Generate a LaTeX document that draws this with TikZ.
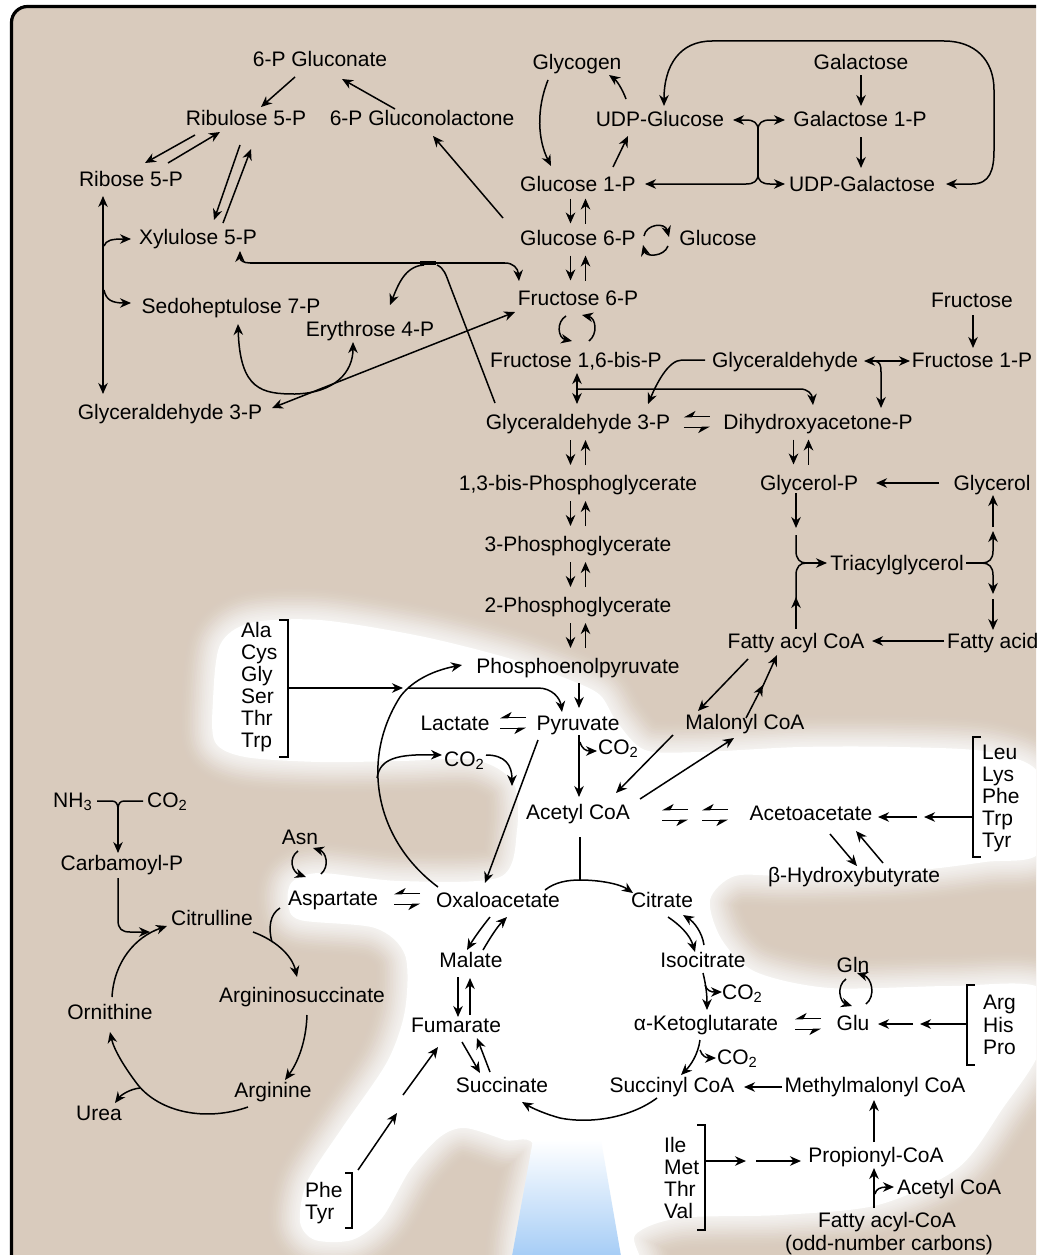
\documentclass[tikz,border=0pt]{standalone}
\usepackage{fontspec}
\setmainfont{Liberation Sans}
\usetikzlibrary{arrows.meta,calc}
\definecolor{tanbg}{RGB}{217,203,189}
\definecolor{skyblue}{RGB}{166,205,246}
\newcommand\mfs{\fontsize{21}{22}\selectfont}
\begin{document}
\begin{tikzpicture}[x=1pt,y=-1pt,
  lbl/.style={inner sep=0pt,text height=15pt,text depth=0pt,font=\mfs},
  lw/.style={lbl,anchor=west},
  hd/.tip={Stealth[length=11pt,width=9.5pt,inset=3.5pt]},
  hpr/.tip={Stealth[harpoon,swap,length=10pt,width=11pt,inset=3pt]},
  ln/.style={line width=1.5pt},
  ar/.style={line width=1.5pt,-hd},
  dar/.style={line width=1.5pt,hd-hd},
  hpa/.style={line width=1.7pt,-hpr},
  pics/ud/.style={code={
    \draw[ar] (-7.5,-12.5) -- (-7.5,12.5);
    \draw[ar] (7.5,12.5) -- (7.5,-12.5);}},
  pics/eq/.style={code={
    \draw[hpa] (13,-5.5) -- (-13,-5.5);
    \draw[hpa] (-13,5.5) -- (13,5.5);}}
]
\useasboundingbox (0,0) rectangle (1036,1255);

% ---------- background panel, light field, blue beam ----------
\def\blob{plot[smooth cycle,tension=0.5] coordinates {
 (213,700) (220,645) (250,623) (320,620) (420,636) (508,658) (570,680)
 (600,695) (617,722) (645,750) (700,752) (800,747) (900,747) (990,752)
 (1040,775) (1040,852) (985,862) (900,872) (790,876) (735,876) (710,900)
 (722,940) (756,972) (830,988) (950,986) (1040,988) (1040,1050)
 (1003,1108) (958,1168) (878,1205) (780,1215) (680,1218) (635,1235)
 (635,1270) (520,1270) (535,1150) (505,1140) (465,1128) (440,1137)
 (410,1170) (382,1218) (352,1240) (315,1240) (300,1222) (307,1182)
 (342,1128) (387,1062) (405,1010) (405,955) (375,928) (300,920)
 (288,903) (292,882) (320,873) (400,881) (500,877) (517,830) (513,782)
 (475,760) (400,761) (320,762) (245,757) (215,742)}}
\begin{scope}
\clip (0,0) rectangle (1036,1255);
\draw[line width=3.2pt,fill=tanbg,rounded corners=16pt] (11.5,6.5) rectangle (1080,1290);
\foreach \i in {1,...,20}{
  \pgfmathsetmacro\w{3.2*\i}
  \pgfmathsetmacro\o{0.015+0.0075*(20-\i)}
  \path[draw=white,line width=\w pt,line join=round,opacity=\o] \blob;}
\fill[white] \blob;
\shade[top color=white,bottom color=skyblue] (533,1140) -- (601,1140) -- (621,1256) -- (512,1256) -- cycle;
\end{scope}

% ---------- pentose phosphate pathway ----------
\node[lbl] (gluconate) at (320,59) {6-P Gluconate};
\node[lbl] (ribulose) at (246,118) {Ribulose 5-P};
\node[lbl] (lactone) at (422,118) {6-P Gluconolactone};
\node[lbl] (ribose) at (131,179) {Ribose 5-P};
\node[lbl] (xylulose) at (198,237) {Xylulose 5-P};
\node[lbl] (sedo) at (231,306) {Sedoheptulose 7-P};
\node[lbl] (erythrose) at (370,329) {Erythrose 4-P};
\node[lbl] (gapl) at (170,412) {Glyceraldehyde 3-P};

% ---------- glycolysis column and sugars ----------
\node[lbl] (glycogen) at (577,62) {Glycogen};
\node[lbl] (udpglc) at (660,119) {UDP-Glucose};
\node[lbl] (galactose) at (861,62) {Galactose};
\node[lbl] (gal1p) at (860,119) {Galactose 1-P};
\node[lbl] (g1p) at (578,184) {Glucose 1-P};
\node[lbl] (udpgal) at (862,184) {UDP-Galactose};
\node[lbl] (g6p) at (578,238) {Glucose 6-P};
\node[lbl] (glucose) at (718,238) {Glucose};
\node[lbl] (f6p) at (578,298) {Fructose 6-P};
\node[lbl] (fructose) at (972,300) {Fructose};
\node[lbl] (f16bp) at (576,360) {Fructose 1,6-bis-P};
\node[lbl] (glyald) at (785,360) {Glyceraldehyde};
\node[lbl] (f1p) at (972,360) {Fructose 1-P};
\node[lbl] (gap) at (578,422) {Glyceraldehyde 3-P};
\node[lbl] (dhap) at (818,422) {Dihydroxyacetone-P};
\node[lbl] (bpg) at (578,483) {1,3-bis-Phosphoglycerate};
\node[lbl] (glyp) at (809,483) {Glycerol-P};
\node[lbl] (glycerol) at (992,483) {Glycerol};
\node[lbl] (pg3) at (578,544) {3-Phosphoglycerate};
\node[lbl] (tag) at (897,563) {Triacylglycerol};
\node[lbl] (pg2) at (578,605) {2-Phosphoglycerate};
\node[lbl] (facoa) at (796,641) {Fatty acyl CoA};
\node[lw] (fa) at (947,641) {Fatty acid};
\node[lbl] (pep) at (578,666) {Phosphoenolpyruvate};
\node[lbl] (lactate) at (455,723) {Lactate};
\node[lbl] (pyr) at (578,723) {Pyruvate};
\node[lbl] (malonyl) at (745,722) {Malonyl CoA};
\node[lw] (co2a) at (598,747) {CO\textsubscript{2}};
\node[lw] (co2b) at (444,759) {CO\textsubscript{2}};
\node[lbl] (accoa) at (578,812) {Acetyl CoA};
\node[lbl] (acac) at (811,813) {Acetoacetate};
\node[lbl] (bhb) at (854,875) {β-Hydroxybutyrate};
\node[lw] (leu) at (982,752) {Leu};
\node[lw] (lys) at (982,774) {Lys};
\node[lw] (phe) at (982,796) {Phe};
\node[lw] (trp) at (982,818) {Trp};
\node[lw] (tyr) at (982,840) {Tyr};
\node[lw] (ala) at (241,630) {Ala};
\node[lw] (cys) at (241,652) {Cys};
\node[lw] (gly) at (241,674) {Gly};
\node[lw] (ser) at (241,696) {Ser};
\node[lw] (thr) at (241,718) {Thr};
\node[lw] (trpb) at (241,740) {Trp};

% ---------- urea cycle ----------
\node[lw] (nh3) at (53,800) {NH\textsubscript{3}};
\node[lw] (co2c) at (147,800) {CO\textsubscript{2}};
\node[lbl] (carb) at (122,863) {Carbamoyl-P};
\node[lbl] (citrulline) at (212,918) {Citrulline};
\node[lbl] (orn) at (110,1012) {Ornithine};
\node[lbl] (argsuc) at (302,995) {Argininosuccinate};
\node[lbl] (arginine) at (273,1090) {Arginine};
\node[lbl] (urea) at (99,1113) {Urea};
\node[lbl] (asn) at (300,837) {Asn};
\node[lbl] (asp) at (333,898) {Aspartate};

% ---------- citric acid cycle and side branches ----------
\node[lbl] (oaa) at (498,900) {Oxaloacetate};
\node[lbl] (citrate) at (662,900) {Citrate};
\node[lbl] (malate) at (471,960) {Malate};
\node[lbl] (isocit) at (703,960) {Isocitrate};
\node[lbl] (fum) at (456,1025) {Fumarate};
\node[lbl] (akg) at (706,1023) {α-Ketoglutarate};
\node[lbl] (gln) at (853,965) {Gln};
\node[lbl] (glu) at (853,1023) {Glu};
\node[lw] (co2d) at (722,992) {CO\textsubscript{2}};
\node[lw] (co2e) at (717,1057) {CO\textsubscript{2}};
\node[lw] (argaa) at (983,1002) {Arg};
\node[lw] (his) at (983,1025) {His};
\node[lw] (pro) at (983,1047) {Pro};
\node[lbl] (succ) at (502,1085) {Succinate};
\node[lbl] (succoa) at (672,1085) {Succinyl CoA};
\node[lbl] (mmcoa) at (875,1085) {Methylmalonyl CoA};
\node[lw] (ile) at (664,1145) {Ile};
\node[lw] (met) at (664,1167) {Met};
\node[lw] (thrb) at (664,1189) {Thr};
\node[lw] (val) at (664,1211) {Val};
\node[lbl] (prop) at (876,1155) {Propionyl-CoA};
\node[lw] (accoab) at (897,1187) {Acetyl CoA};
\node[lbl] (facoab) at (887,1220) {Fatty acyl-CoA};
\node[lbl] (odd) at (889,1243) {(odd-number carbons)};
\node[lw] (pheb) at (305,1190) {Phe};
\node[lw] (tyrb) at (305,1212) {Tyr};

% ---------- connectors: pentose phosphate ----------
\draw[ar] (295,77) -- (261,107);
\draw[ar] (395,109) -- (342,79);
\draw[ar] (503,218) -- (433,136);
\draw[ar] (195,135) -- (145,163);
\draw[ar] (168,163) -- (220,132);
\draw[ar] (240,145) -- (214,220);
\draw[ar] (223,223) -- (251,149);
\draw[dar] (103,196) -- (103,394);
\draw[ar] (104,246) .. controls (106,240) and (112,239) .. (131,239);
\draw[ar] (104,290) .. controls (106,300) and (112,303) .. (131,303);
\draw[ln] (250,263) -- (505,263);
\draw[ar] (250,263) .. controls (243,263) and (240,260) .. (240,251);
\draw[ar] (505,263) .. controls (513,263) and (518,268) .. (519,281);
\draw[line width=3.6pt] (420,263) -- (436,263);
\draw[ar] (424,265) .. controls (405,266) and (398,285) .. (390,305);
\draw[ln] (437,265) .. controls (444,268) and (446,275) .. (449,283) -- (495,403);
\draw[dar] (238,324) .. controls (240,390) and (262,394) .. (295,394) .. controls (335,393) and (353,372) .. (353,342);
\draw[dar] (272,408) -- (515,312);

% ---------- connectors: glycogen, galactose, glycolysis ----------
\draw[ar] (548,80) .. controls (536,110) and (538,140) .. (551,166);
\draw[ar] (613,167) -- (628,136);
\draw[ar] (626,99) .. controls (622,88) and (616,80) .. (609,75);
\draw[ln] (758,130) -- (758,174);
\draw[ar] (758,130) .. controls (758,123) and (754,120) .. (746,120) -- (733,120);
\draw[ar] (758,130) .. controls (758,123) and (762,120) .. (770,120) -- (785,120);
\draw[ar] (758,174) .. controls (758,181) and (754,184) .. (746,184) -- (645,184);
\draw[ar] (758,174) .. controls (758,181) and (762,184) .. (770,184) -- (785,184);
\draw[ar] (861,75) -- (861,106);
\draw[ar] (861,137) -- (861,168);
\draw[dar] (946,184) -- (972,184) .. controls (990,184) and (994,170) .. (994,150) -- (994,90)
  .. controls (994,60) and (975,41) .. (944,41) -- (712,41) .. controls (680,41) and (664,65) .. (664,106);
\pic at ($(g1p)!0.5!(g6p)$) {ud};
\pic at ($(g6p)!0.5!(f6p)$) {ud};
\draw[ar] (644,236) .. controls (646,224) and (665,222) .. (669,237);
\draw[ar] (668,246) .. controls (664,257) and (646,257) .. (643,245);
\draw[ar] (566,316) .. controls (556,322) and (558,338) .. (572,341);
\draw[ar] (589,341) .. controls (598,334) and (596,318) .. (582,315);
\draw[dar] (577,373) -- (577,404);
\draw[ar] (577,389) -- (800,389) .. controls (808,389) and (812,394) .. (813,405);
\draw[ar] (705,360) -- (682,360) .. controls (668,360) and (656,385) .. (648,404);
\draw[dar] (864,361) -- (910,361);
\draw[ar] (875,361) .. controls (880,362) and (881,365) .. (881,372) -- (881,408);
\draw[ar] (973,315) -- (973,348);
\pic at ($(gap.east)!0.5!(dhap.west)$) {eq};
\pic at ($(gap)!0.5!(bpg)$) {ud};
\pic at ($(bpg)!0.5!(pg3)$) {ud};
\pic at ($(pg3)!0.5!(pg2)$) {ud};
\pic at ($(pg2)!0.5!(pep)$) {ud};
\pic at (801,452) {ud};

% ---------- connectors: glycerol and fatty acids ----------
\draw[ar] (939,483) -- (876,483);
\draw[ar] (796,493) -- (796,528);
\draw[ln] (796,535) -- (796,551) .. controls (796,559) and (800,563) .. (806,563);
\draw[ln] (796,608) -- (796,575) .. controls (796,567) and (800,563) .. (806,563);
\draw[ar] (803,563) -- (827,563);
\draw[ar] (796,629) -- (796,597);
\draw[ln] (966,563) -- (982,563);
\draw[ar] (982,563) .. controls (989,563) and (993,559) .. (993,551) -- (993,531);
\draw[ar] (982,563) .. controls (989,563) and (993,567) .. (993,575) -- (993,594);
\draw[ar] (993,527) -- (993,495);
\draw[ar] (993,599) -- (993,630);
\draw[ar] (944,641) -- (872,641);
\draw[ar] (748,659) -- (698,711);
\draw[ar] (746,718) -- (763,685);
\draw[ar] (762,688) -- (777,655);
\draw[ar] (673,735) -- (616,793);
\draw[ar] (640,799) -- (734,738);

% ---------- connectors: pyruvate, acetyl CoA, ketone bodies ----------
\draw[ar] (579,683) -- (579,708);
\draw[ar] (579,735) -- (579,797);
\draw[ar] (580,742) .. controls (582,749) and (586,751) .. (597,751);
\pic at ($(lactate.east)!0.5!(pyr.west)$) {eq};
\draw[ln] (279,620) -- (288,620) -- (288,757) -- (279,757);
\draw[ar] (288,688) -- (403,688);
\draw[ar] (408,688) -- (538,688) .. controls (552,688) and (560,698) .. (562,712);
\draw[ar] (438,887) .. controls (375,840) and (360,760) .. (400,697) .. controls (410,683) and (430,671) .. (462,665);
\draw[ar] (377,778) .. controls (380,758) and (398,754) .. (442,755);
\draw[ar] (486,755) .. controls (505,755) and (512,765) .. (512,786);
\draw[ar] (538,740) -- (485,883);
\pic at (675,815) {eq};
\pic at (715,815) {eq};
\draw[ln] (981,737) -- (973,737) -- (973,857) -- (981,857);
\draw[ar] (973,817) -- (924,817);
\draw[ar] (917,817) -- (878,817);
\draw[ar] (830,834) -- (857,866);
\draw[ar] (883,863) -- (856,831);
\draw[ln] (580,837) -- (580,880);
\draw[ar] (545,890) .. controls (555,882) and (568,880) .. (580,880) .. controls (600,880) and (620,884) .. (633,893);

% ---------- connectors: citric acid cycle ----------
\pic at ($(asp.east)!0.5!(oaa.west)$) {eq};
\draw[ar] (298,851) .. controls (288,858) and (292,872) .. (306,877);
\draw[ar] (321,874) .. controls (330,866) and (326,852) .. (313,848);
\draw[ar] (490,917) .. controls (482,927) and (474,938) .. (467,950);
\draw[ar] (483,950) .. controls (490,938) and (497,927) .. (507,917);
\draw[ar] (458,977) -- (458,1017);
\draw[ar] (470,1015) -- (470,978);
\draw[ar] (462,1042) -- (480,1073);
\draw[ar] (490,1072) -- (477,1038);
\draw[ar] (657,1098) .. controls (630,1118) and (590,1124) .. (560,1118) .. controls (545,1114) and (532,1108) .. (522,1102);
\draw[ar] (668,917) .. controls (680,925) and (690,935) .. (695,952);
\draw[ar] (704,945) .. controls (702,932) and (694,922) .. (683,915);
\draw[ar] (703,973) .. controls (706,985) and (707,995) .. (707,1010);
\draw[ar] (705,985) .. controls (707,991) and (711,992) .. (722,992);
\draw[ar] (700,1040) .. controls (698,1055) and (690,1066) .. (681,1075);
\draw[ar] (700,1050) .. controls (702,1056) and (706,1058) .. (716,1058);
\pic at (808,1024) {eq};
\draw[ar] (846,979) .. controls (836,986) and (840,1002) .. (852,1006);
\draw[ar] (866,1004) .. controls (876,996) and (872,978) .. (857,973);
\draw[ln] (975,985) -- (967,985) -- (967,1065) -- (975,1065);
\draw[ar] (967,1024) -- (920,1024);
\draw[ar] (913,1024) -- (878,1024);
\draw[ar] (782,1087) -- (744,1087);
\draw[ar] (874,1142) -- (874,1100);
\draw[ln] (697,1125) -- (705,1125) -- (705,1230) -- (697,1230);
\draw[ar] (705,1161) -- (746,1161);
\draw[ar] (756,1161) -- (801,1161);
\draw[ar] (874,1208) -- (874,1168);
\draw[ar] (875,1194) .. controls (876,1189) and (880,1187) .. (894,1187);
\draw[ln] (345,1173) -- (352,1173) -- (352,1228) -- (345,1228);
\draw[ar] (358,1170) -- (397,1113);
\draw[ar] (403,1095) -- (438,1047);

% ---------- connectors: urea cycle ----------
\draw[ln] (97,801) -- (112,801) .. controls (116,801) and (118,804) .. (118,809);
\draw[ln] (143,801) -- (124,801) .. controls (120,801) and (118,804) .. (118,809);
\draw[ar] (118,809) -- (118,853);
\draw[ar] (118,878) -- (118,920) .. controls (118,929) and (122,932) .. (130,932) -- (150,932);
\draw[ar] (112,997) .. controls (114,962) and (135,937) .. (167,926);
\draw[ar] (253,932) .. controls (275,940) and (292,955) .. (297,977);
\draw[ln] (280,908) .. controls (270,914) and (268,928) .. (272,942);
\draw[ar] (307,1015) .. controls (306,1045) and (296,1065) .. (285,1080);
\draw[ar] (248,1107) .. controls (205,1122) and (160,1112) .. (138,1085) .. controls (125,1068) and (114,1050) .. (110,1032);
\draw[ar] (140,1088) .. controls (130,1089) and (121,1095) .. (115,1103);
\end{tikzpicture}
\end{document}
